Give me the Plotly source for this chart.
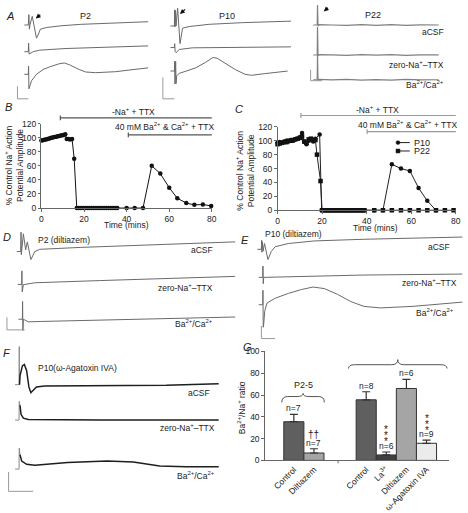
import plotly.graph_objects as go

W, H = 468, 513
FONT = "Liberation Sans, Arial, sans-serif"

# ======================= DATA =======================
# Recorded traces: t = time from stimulus, v = deflection from baseline (arbitrary units)
# Panel A, P2
a_p2_acsf_t = [0, 0.6, 1.1, 1.8, 4.0, 5.8, 8.3, 10.3, 12.3, 18.3, 33.3, 53.3, 83.3, 121.6]
a_p2_acsf_v = [0, 10.7, -4.3, 0.7, 9.0, -1.3, -13.6, -9.3, -4.3, -2.6, -0.8, 0.7, 2.0, 3.4]
a_p2_zero_t = [0, 0.3, 0.8, 1.8, 5.0, 11.6, 38.3, 121.6]
a_p2_zero_v = [0, 9.0, -2.4, -2.0, 0, 1.6, 3.3, 6.0]
a_p2_ba_t = [0, 0.3, 0.6, 1.6, 3.3, 8.3, 15.0, 21.6, 31.6, 36.6, 41.6, 51.6, 58.3, 68.3, 88.3, 121.6]
a_p2_ba_v = [0, 8.4, -15.0, -11.6, -6.6, 0, 5.0, 7.7, 11.0, 11.7, 10.0, 5.0, 2.4, 1.7, 2.7, 6.7]
# Panel A, P10
a_p10_acsf_t = [0, 0.3, 0.6, 1.2, 1.7, 3.3, 5.7, 8.3, 15.0, 35.0, 68.3, 118.3]
a_p10_acsf_v = [0, 16.7, -1.0, 16.0, 0, 18.4, -18.3, -2.3, -0.6, 1.7, 3.4, 5.0]
a_p10_zero_t = [0, 0.3, 0.8, 1.7, 5.0, 18.3, 118.3]
a_p10_zero_v = [0, 4.0, -4.3, -5.3, -2.0, -0.3, 0.7]
a_p10_ba_t = [0, 0.3, 0.6, 1.3, 1.7, 2.3, 5.0, 11.7, 21.7, 31.7, 39.0, 43.3, 51.7, 61.7, 71.7, 78.3, 91.7, 115.0]
a_p10_ba_v = [0, 10.0, -13.4, 10.0, -13.0, -5.0, -2.4, 0, 3.3, 9.0, 14.0, 13.3, 8.3, 1.6, -3.4, -4.4, -2.7, 0]
# Panel A, P22
a_p22_t = [0, 0.3, 0.8, 2, 15, 30, 45, 60, 75, 90, 105, 123.3]
a_p22_acsf_v = [0, 20.7, -1.0, 0.3, 0, -0.4, 0.3, -0.3, 0.3, -0.3, 0.2, 0]
a_p22_zero_v = [0, 29.0, -1.0, 0.3, 0.2, -0.3, 0.3, -0.2, 0.3, -0.3, 0.2, 0.1]
a_p22_ba_v = [0, 25.6, -1.0, 0.3, -0.2, 0.3, -0.3, 0.2, -0.3, 0.3, -0.2, 0]
# Panel D, P2 (diltiazem)
d_acsf_t = [0, 0.3, 0.6, 2.7, 5.0, 6.7, 10.3, 14.3, 19.3, 61.0, 131.0, 217.7]
d_acsf_v = [0, 20.0, -3.3, 18.3, 1.7, 10.0, -8.3, 0, 2.3, 4.3, 7.0, 10.0]
d_zero_t = [1.0, 1.2, 1.5, 2.7, 14.3, 81.0, 217.7]
d_zero_v = [0, 14.0, -7.7, -0.3, 1.7, 4.0, 8.3]
d_ba_t = [1.7, 1.9, 2.2, 2.7, 7.7, 21.0, 81.0, 217.7]
d_ba_v = [0, 18.3, -11.7, 0, -2.7, -2.3, -1.0, 2.3]
# Panel E, P10 (diltiazem)
e_acsf_t = [0, 0.3, 0.6, 1.1, 1.7, 3.2, 6.7, 10.0, 14.0, 27.4, 54.0, 104.0, 204.0]
e_acsf_v = [0, 9.4, -3.0, 7.7, -2.0, 6.0, -10.6, -2.3, 2.7, 6.0, 8.7, 10.4, 12.7]
e_zero_t = [1.4, 1.6, 1.9, 2.4, 37.4, 104.0, 204.0]
e_zero_v = [0, 11.7, -6.6, 0, 1.0, 2.4, 3.4]
e_ba_t = [1.4, 1.6, 1.9, 2.4, 3.4, 5.7, 14.0, 27.4, 40.7, 52.4, 64.0, 77.4, 90.7, 104.0, 120.7, 154.0, 204.0]
e_ba_v = [0, 15.0, -23.3, -20.0, -6.7, 1.7, 6.7, 11.7, 15.7, 18.3, 16.7, 10.7, 3.3, -1.7, -3.3, -1.7, 2.7]
# Panel F, P10 (omega-Agatoxin IVA)
f_acsf_t = [0, 0.2, 0.5, 1.0, 3.4, 5.4, 7.7, 10.0, 12.0, 14.4, 17.7, 26.0, 82.7, 149.4, 202.7]
f_acsf_v = [0, 39.4, 0, 9.4, 19.4, 21.0, 14.4, -2.3, -8.3, -5.6, -2.3, -1.3, -1.3, -0.6, 1.0]
f_zero_t = [0, 0.2, 1.0, 2.0, 4.4, 9.4, 82.7, 202.7]
f_zero_v = [0, 19.3, 15.3, 6.0, 2.0, 0.6, 0, 0]
f_ba_t = [0, 0.2, 1.0, 2.7, 7.7, 16.0, 49.4, 89.4, 116.0, 142.7, 169.4, 202.7]
f_ba_v = [0, 21.7, 15.0, 8.3, 5.0, 4.0, 6.7, 8.3, 7.3, 3.3, 2.3, 2.3]

# Panel B: % control Na+ AP amplitude vs time (mins), P2
b_time = [0, 0.7, 1.4, 2.1, 2.8, 3.5, 4.2, 4.9, 5.6, 6.3, 7.0, 7.7, 8.4, 9.1, 9.8, 10.5, 11.2,
          11.9, 12.7, 13.5, 14.4, 15.4,
          16.6, 17.6, 18.6, 19.6, 20.6, 21.6, 22.6, 23.6, 24.6, 25.6, 26.6, 27.6, 28.6, 29.6,
          30.6, 31.6, 32.6, 33.6, 34.6, 35.6,
          40.0, 43.8, 47.7, 51.8, 55.8, 60.0, 63.8, 68.0, 71.8, 75.8, 79.7]
b_amp = [96, 96.5, 97, 97.5, 98, 98.5, 99.5, 100, 100.5, 101, 101.5, 102, 102.5, 103, 103.5, 104, 105,
         98, 98, 97.5, 98, 70,
         0, 0, 0, 0, 0, 0, 0, 0, 0, 0, 0, 0, 0, 0,
         0, 0, 0, 0, 0, 0,
         0, 0, 0, 60, 49, 29, 14, 7, 4.5, 5, 3]

# Panel C: P10 and P22
c_p10_time = [0, 1, 2, 3, 4, 5, 6, 7, 8, 9, 10, 11, 12, 13, 14, 15, 16, 17, 18.9, 19.8,
              21, 22, 23, 24, 25, 26, 27, 28, 29, 30, 31, 32, 33, 34, 35, 36, 37, 38, 39,
              43.4, 47.3, 51.3, 55.4, 59.4, 63.3, 67.2, 71.1]
c_p10_amp = [97, 98, 97, 99, 100, 99, 101, 100, 102, 103, 105, 111, 98, 95, 100, 101, 99, 103, 109, 0,
             0, 0, 0, 0, 0, 0, 0, 0, 0, 0, 0, 0, 0, 0, 0, 0, 0, 0, 0,
             0, 0, 66, 60, 56.5, 32, 13.5, 0]
c_p22_time = [0, 1, 2, 3, 4, 5, 6, 7, 8, 9, 10, 11, 12, 13, 14, 15, 16, 17, 17.7, 19.3,
              20, 21, 22, 23, 24, 25, 26, 27, 28, 29, 30, 31, 32, 33, 34, 35, 36, 37, 38, 39,
              43.4, 47.3, 51.3, 55.4, 59.4, 63.3, 67.2, 71.1, 75.1, 79]
c_p22_amp = [95, 96, 97, 98, 98, 100, 100, 101, 102, 103, 104, 106, 99, 97, 102, 103, 101, 101, 80, 42,
             0, 0, 0, 0, 0, 0, 0, 0, 0, 0, 0, 0, 0, 0, 0, 0, 0, 0, 0, 0,
             0, 0, 0, 0, 0, 0, 0, 0, 0, 0]

# Panel G: Ba2+/Na+ ratio
g_groups = ["P2-5", "P2-5", "P8-12", "P8-12", "P8-12", "P8-12"]
g_labels = ["Control", "Diltiazem", "Control", "La<sup>3+</sup>", "Diltiazem", "ω-Agatoxin IVA"]
g_values = [35.5, 6.8, 55.6, 5.0, 66.0, 15.7]
g_errors = [6.8, 3.9, 7.4, 2.7, 8.3, 2.9]
g_n = ["n=7", "n=7", "n=8", "n=6", "n=6", "n=9"]

# ======================= HELPERS =======================
fig = go.Figure()
axcount = [0]
annotations = []
shapes = []
TXT = "#222"


def px(x):
    return min(max(x / W, 0), 1)


def py(y):
    return min(max(1 - y / H, 0), 1)


def add_axes(x0, x1, y0, y1, xr, yr, xkw=None, ykw=None):
    axcount[0] += 1
    n = axcount[0]
    xs = "" if n == 1 else str(n)
    xa = dict(domain=[px(x0), px(x1)], range=xr, anchor="y" + xs, visible=False,
              fixedrange=True, showgrid=False, zeroline=False)
    ya = dict(domain=[py(y1), py(y0)], range=yr, anchor="x" + xs, visible=False,
              fixedrange=True, showgrid=False, zeroline=False)
    if xkw:
        xa.update(xkw)
    if ykw:
        ya.update(ykw)
    fig.update_layout(**{"xaxis" + xs: xa, "yaxis" + xs: ya})
    return "x" + xs, "y" + xs


def ann(x, y, text, size=8.5, xanchor="center", yanchor="middle", color=TXT, **kw):
    d = dict(x=x / W, y=1 - y / H, xref="paper", yref="paper", text=text, showarrow=False,
             xanchor=xanchor, yanchor=yanchor, font=dict(size=size, family=FONT, color=color))
    d.update(kw)
    annotations.append(d)


def pline(x0, y0, x1, y1, color="#888", width=1):
    shapes.append(dict(type="line", xref="paper", yref="paper", x0=x0 / W, y0=1 - y0 / H,
                       x1=x1 / W, y1=1 - y1 / H, line=dict(color=color, width=width)))


PAD = 6


def trace_panel(x_start, span, top, bottom, traces, color, width, art_color=None):
    left = max(x_start - PAD, 0)
    right = min(x_start + span + PAD, W)
    xr, yr = add_axes(left, right, top, bottom,
                      [left - x_start, right - x_start], [-(bottom - top), 0])
    for t, v, base in traces:
        off = base - top
        y = [vv - off for vv in v]
        if art_color:
            # stimulus artefact in lighter colour, response in main colour
            fig.add_trace(go.Scatter(x=t[:3], y=y[:3], mode="lines",
                                     line=dict(color=art_color, width=1), xaxis=xr, yaxis=yr,
                                     showlegend=False, hoverinfo="skip"))
            fig.add_trace(go.Scatter(x=t[2:], y=y[2:], mode="lines",
                                     line=dict(color=color, width=width), xaxis=xr, yaxis=yr,
                                     showlegend=False, hoverinfo="skip"))
        else:
            fig.add_trace(go.Scatter(x=t, y=y, mode="lines",
                                     line=dict(color=color, width=width), xaxis=xr, yaxis=yr,
                                     showlegend=False, hoverinfo="skip"))
        shapes.append(dict(type="line", xref=xr, yref=yr, x0=t[0] - 4, x1=t[0], y0=-off, y1=-off,
                           line=dict(color=art_color or color, width=1)))
    return xr, yr


def scale_bar(x, ytop, ybot, xr):
    pline(x, ytop, x, ybot, color="#999", width=1)
    pline(x, ybot, xr, ybot, color="#999", width=1)


def trace_labels(xright, ys):
    texts = ["aCSF", "zero-Na<sup>+</sup>–TTX", "Ba<sup>2+</sup>/Ca<sup>2+</sup>"]
    for txt, y in zip(texts, ys):
        ann(xright, y, txt, size=8.5, xanchor="right")


TRC = "#6a6a6a"

# ======================= PANEL A =======================
trace_panel(26.7, 121.6, 0, 92, [(a_p2_acsf_t, a_p2_acsf_v, 20.7),
                                 (a_p2_zero_t, a_p2_zero_v, 48.3),
                                 (a_p2_ba_t, a_p2_ba_v, 71.7)], TRC, 1)
trace_panel(175, 118.3, 0, 92, [(a_p10_acsf_t, a_p10_acsf_v, 21.7),
                                (a_p10_zero_t, a_p10_zero_v, 44),
                                (a_p10_ba_t, a_p10_ba_v, 68.3)], TRC, 1)
trace_panel(320, 123.3, 0, 92, [(a_p22_t, a_p22_acsf_v, 20.7),
                                (a_p22_t, a_p22_zero_v, 51.7),
                                (a_p22_t, a_p22_ba_v, 77.3)], "#808080", 1.2)
scale_bar(15.7, 84, 97, 26.7)
scale_bar(163.3, 75, 97, 175)
scale_bar(313.3, 67, 78.3, 325)
ann(8, 11, "<i>A</i>", size=11)
ann(85, 11, "P2", size=9)
ann(228, 11, "P10", size=9)
ann(377, 10, "P22", size=9)
trace_labels(451, [28.3, 61.7, 82.3])
for hx, hy, axo, ayo in [(34.3, 14, 6, -5), (180.7, 9.3, 6.6, -6), (326.7, 6.7, 5.6, -5)]:
    annotations.append(dict(x=hx / W, y=1 - hy / H, xref="paper", yref="paper", text="",
                            showarrow=True, ax=axo, ay=ayo, arrowhead=2, arrowsize=0.8,
                            arrowwidth=1.2, arrowcolor="#111", standoff=0))

# ======================= PANEL B =======================
axis_common = dict(visible=True, showline=True, linecolor="#666", linewidth=1, ticks="outside",
                   ticklen=2.5, tickcolor="#666", tickfont=dict(size=8.5, family=FONT, color=TXT))
bx, by = add_axes(40, 213, 122.7, 210, [0, 80], [0, 120],
                  xkw=dict(axis_common, tickvals=[0, 20, 40, 60, 80]),
                  ykw=dict(axis_common, tickvals=[0, 20, 40, 60, 80, 100, 120]))
fig.add_trace(go.Scatter(x=b_time, y=b_amp, mode="lines+markers", xaxis=bx, yaxis=by,
                         line=dict(color="#111", width=1),
                         marker=dict(symbol="circle", size=4.5, color="#111"),
                         cliponaxis=False, showlegend=False, hoverinfo="skip"))


def bracket(xref, x0, x1, ypx, color):
    shapes.append(dict(type="line", xref=xref, yref="paper", x0=x0, x1=x1, y0=1 - ypx / H,
                       y1=1 - ypx / H, line=dict(color=color, width=1.2)))
    for xx in (x0, x1):
        shapes.append(dict(type="line", xref=xref, yref="paper", x0=xx, x1=xx,
                           y0=1 - (ypx - 2.5) / H, y1=1 - (ypx + 2.5) / H,
                           line=dict(color=color, width=1.2)))


bracket(bx, 8.9, 81.5, 116.7, "#555")
bracket(bx, 40.8, 81.5, 134.3, "#555")
ann(133.3, 110, "-Na<sup>+</sup> + TTX", size=8.5)
ann(217.3, 126, "40 mM Ba<sup>2+</sup> &amp; Ca<sup>2+</sup> + TTX", size=8.5, xanchor="right")
ann(13, 166, "% Control Na<sup>+</sup> Action<br>Potential Amplitude", size=8.5, textangle=-90)
ann(126.5, 228, "Time (mins)", size=8.5)
ann(7, 106, "<i>B</i>", size=11)

# ======================= PANEL C =======================
cx, cy = add_axes(279.7, 460.7, 126, 212.3, [0, 80], [0, 120],
                  xkw=dict(axis_common, tickvals=[0, 20, 40, 60, 80]),
                  ykw=dict(axis_common, tickvals=[0, 20, 40, 60, 80, 100, 120]))
fig.add_trace(go.Scatter(x=c_p10_time, y=c_p10_amp, mode="lines+markers", xaxis=cx, yaxis=cy,
                         line=dict(color="#222", width=1),
                         marker=dict(symbol="circle", size=4.5, color="#111"),
                         cliponaxis=False, showlegend=False, hoverinfo="skip"))
fig.add_trace(go.Scatter(x=c_p22_time, y=c_p22_amp, mode="lines+markers", xaxis=cx, yaxis=cy,
                         line=dict(color="#222", width=1),
                         marker=dict(symbol="square", size=4.5, color="#111"),
                         cliponaxis=False, showlegend=False, hoverinfo="skip"))
bracket(cx, 10.5, 80.7, 114.3, "#999")
bracket(cx, 40.2, 80.7, 131, "#999")
ann(380.7, 108.5, "-Na<sup>+</sup> + TTX", size=8.5)
ann(464, 123.3, "40 mM Ba<sup>2+</sup> &amp; Ca<sup>2+</sup> + TTX", size=8.5, xanchor="right")
ann(247, 171, "% Control Na<sup>+</sup> Action<br>Potential Amplitude", size=8.5, textangle=-90)
ann(379, 231, "Time (mins)", size=8.5)
ann(241, 108, "<i>C</i>", size=11)
# legend of panel C
pline(401.5, 142.3, 414, 142.3, color="#222", width=1)
shapes.append(dict(type="circle", xref="paper", yref="paper", x0=400 / W, x1=404 / W,
                   y0=1 - 144.3 / H, y1=1 - 140.3 / H, fillcolor="#111",
                   line=dict(color="#111", width=0.5)))
ann(416, 142.3, "P10", size=9, xanchor="left")
pline(401.5, 151, 414, 151, color="#222", width=1)
shapes.append(dict(type="rect", xref="paper", yref="paper", x0=400 / W, x1=404 / W,
                   y0=1 - 153 / H, y1=1 - 149 / H, fillcolor="#111",
                   line=dict(color="#111", width=0.5)))
ann(416, 151, "P22", size=9, xanchor="left")

# ======================= PANEL D =======================
trace_panel(19, 217.7, 228, 345, [(d_acsf_t, d_acsf_v, 255),
                                  (d_zero_t, d_zero_v, 289),
                                  (d_ba_t, d_ba_v, 325)], TRC, 1)
scale_bar(5, 323, 336, 23)
ann(5, 240, "<i>D</i>", size=11)
ann(63.3, 243, "P2 (diltiazem)", size=8.5)
trace_labels(216.7, [253.3, 291.7, 329.3])

# ======================= PANEL E =======================
trace_panel(263.3, 204, 228, 350, [(e_acsf_t, e_acsf_v, 252.7),
                                   (e_zero_t, e_zero_v, 281.7),
                                   (e_ba_t, e_ba_v, 310)], TRC, 1)
scale_bar(263.3, 332, 345, 277.3)
ann(247, 243, "<i>E</i>", size=11)
ann(295.7, 236.7, "P10 (diltiazem)", size=8.5)
ann(457, 250.7, "aCSF", size=8.5, xanchor="right")
ann(464, 286.7, "zero-Na<sup>+</sup>–TTX", size=8.5, xanchor="right")
ann(460.7, 318.3, "Ba<sup>2+</sup>/Ca<sup>2+</sup>", size=8.5, xanchor="right")

# ======================= PANEL F =======================
trace_panel(17.3, 202.7, 345, 510, [(f_acsf_t, f_acsf_v, 392.7),
                                    (f_zero_t, f_zero_v, 429.3),
                                    (f_ba_t, f_ba_v, 480)], "#1e1e1e", 1.5, art_color="#8a8a8a")
scale_bar(6.7, 483, 503, 31.7)
ann(5, 360, "<i>F</i>", size=11)
ann(76.7, 375, "P10(ω-Agatoxin IVA)", size=8.5)
ann(213.3, 401, "aCSF", size=8.5, xanchor="right")
ann(218, 437.3, "zero-Na<sup>+</sup>–TTX", size=8.5, xanchor="right")
ann(218, 486.7, "Ba<sup>2+</sup>/Ca<sup>2+</sup>", size=8.5, xanchor="right")

# ======================= PANEL G =======================
GROUP_GAP = 1.6
g_pos = []
for i, g in enumerate(g_groups):
    g_pos.append(i + (GROUP_GAP if g == "P8-12" else 0))
g_colors = ["#5f5f5f", "#a5a5a5", "#5f5f5f", "#404040", "#a5a5a5", "#ebebeb"]
gx, gy = add_axes(267.3, 454, 358.3, 471, [-1.42, 7.73], [0, 100],
                  xkw=dict(visible=True, showline=True, linecolor="#666", ticks="",
                           tickvals=g_pos, ticktext=g_labels, tickangle=-45,
                           tickfont=dict(size=8.5, family=FONT, color=TXT)),
                  ykw=dict(visible=True, showline=True, linecolor="#666", ticks="outside",
                           ticklen=3, tickcolor="#666", tickvals=[0, 20, 40, 60, 80, 100],
                           showticklabels=True,
                           tickfont=dict(size=8.5, family=FONT, color=TXT)))
fig.add_trace(go.Bar(x=g_pos, y=g_values, width=1, xaxis=gx, yaxis=gy,
                     marker=dict(color=g_colors, line=dict(color="#333", width=1)),
                     error_y=dict(type="data", array=g_errors, arrayminus=[0, 0, 0, 0, 0, 0],
                                  symmetric=False, color="#333", thickness=1.2, width=4),
                     showlegend=False, hoverinfo="skip"))
shapes.append(dict(type="line", xref=gx, yref="paper", x0=2.2, x1=2.2, y0=1 - 471 / H,
                   y1=1 - 474 / H, line=dict(color="#666", width=1)))
for xpos, val, err, nn in zip(g_pos, g_values, g_errors, g_n):
    annotations.append(dict(x=xpos, y=val + err, xref=gx, yref=gy, text=nn, showarrow=False,
                            yanchor="bottom", yshift=-1,
                            font=dict(size=8.5, family=FONT, color=TXT)))
# significance marks
annotations.append(dict(x=g_pos[1], y=24, xref=gx, yref=gy, text="††", showarrow=False,
                        font=dict(size=10, family=FONT, color=TXT)))
for idx, ys in [(3, [17.5, 23, 28.5]), (5, [27.5, 33, 38.5])]:
    for yy in ys:
        annotations.append(dict(x=g_pos[idx], y=yy, xref=gx, yref=gy, text="*", showarrow=False,
                                yanchor="middle", font=dict(size=10, family=FONT, color=TXT)))


def brace(x0, x1, yend, yh, ypk):
    xc = (x0 + x1) / 2
    r = 0.3
    path = (f"M {x0},{yend} Q {x0},{yh} {x0 + r},{yh} L {xc - r},{yh} Q {xc},{yh} {xc},{ypk} "
            f"Q {xc},{yh} {xc + r},{yh} L {x1 - r},{yh} Q {x1},{yh} {x1},{yend}")
    shapes.append(dict(type="path", xref=gx, yref=gy, path=path, line=dict(color="#555", width=1)))


brace(-0.6, 1.52, 53.2, 58.6, 61.5)
brace(2.72, 7.62, 84.3, 87.8, 92.5)
annotations.append(dict(x=0.46, y=69.5, xref=gx, yref=gy, text="P2-5", showarrow=False,
                        font=dict(size=9, family=FONT, color=TXT)))
annotations.append(dict(x=5.17, y=100.9, xref=gx, yref=gy, text="P8-12", showarrow=False,
                        font=dict(size=9, family=FONT, color=TXT)))
ann(244, 416.7, "Ba<sup>2+</sup>/Na<sup>+</sup> ratio", size=8.5, textangle=-90)
ann(249, 354, "<i>G</i>", size=11)

fig.update_layout(width=W, height=H, margin=dict(l=0, r=0, t=0, b=0),
                  paper_bgcolor="white", plot_bgcolor="rgba(0,0,0,0)",
                  showlegend=False, font=dict(family=FONT, size=8.5, color=TXT),
                  annotations=annotations, shapes=shapes, bargap=0)
# remove the browser's default 8px page margin so the figure sits at the window origin
fig.write_html("out.html", config={"displayModeBar": False, "staticPlot": True},
               post_script="document.body.style.margin='0';document.body.style.overflow='hidden';")
